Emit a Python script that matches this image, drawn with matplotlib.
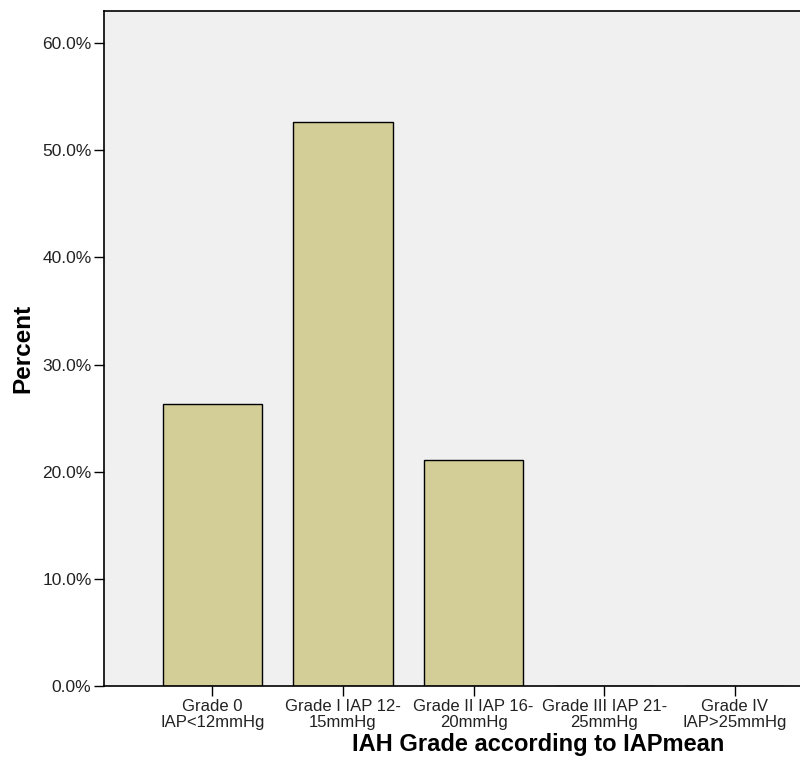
import matplotlib.pyplot as plt
from matplotlib.ticker import FuncFormatter

# IAH grade categories and percentages
categories = ['Grade 0\nIAP<12mmHg', 'Grade I IAP 12-\n15mmHg', 'Grade II IAP 16-\n20mmHg',
              'Grade III IAP 21-\n25mmHg', 'Grade IV\nIAP>25mmHg']
percent = [26.3, 52.6, 21.1, 0.0, 0.0]
y_ticks = [0, 10, 20, 30, 40, 50, 60]

plt.rcParams['font.family'] = ['Liberation Sans', 'DejaVu Sans']

fig = plt.figure(figsize=(8, 7.8), dpi=100)
ax = fig.add_axes([0.13, 0.1205, 0.87, 0.8655])
ax.set_facecolor('#F0F0F0')

x = range(len(categories))
ax.bar(x, percent, width=0.76, color='#D3CE97', edgecolor='black', linewidth=1)

ax.set_xlim(-0.83, 4.5)
ax.set_ylim(0, 63)
ax.set_yticks(y_ticks)
ax.yaxis.set_major_formatter(FuncFormatter(lambda v, p: '%.1f%%' % v))
ax.set_xticks(list(x))
ax.set_xticklabels(categories, fontsize=12, linespacing=1.05)

ax.tick_params(axis='both', direction='out', length=7, width=1, colors='black')
ax.tick_params(axis='y', labelsize=12.5, labelcolor='#222222', pad=2)
ax.tick_params(axis='x', labelcolor='#222222', pad=2.5)

for side in ['left', 'top', 'bottom']:
    ax.spines[side].set_linewidth(1.2)
ax.spines['right'].set_visible(False)

ax.set_ylabel('Percent', fontsize=17.5, fontweight='bold')
ax.set_xlabel('IAH Grade according to IAPmean', fontsize=17, fontweight='bold')
ax.yaxis.set_label_coords(-0.1, 0.5)
ax.xaxis.set_label_coords(0.624, -0.069)

fig.savefig('out.png', dpi=100)
